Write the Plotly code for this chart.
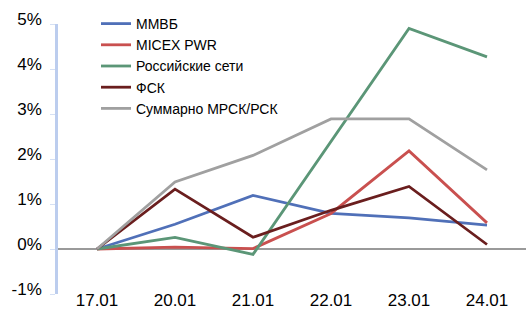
import plotly.graph_objects as go

dates = ["17.01", "20.01", "21.01", "22.01", "23.01", "24.01"]
micex_mmvb = [0.0, 0.55, 1.19, 0.79, 0.69, 0.53]
micex_pwr = [0.0, 0.04, 0.01, 0.79, 2.18, 0.58]
ross_seti = [0.0, 0.26, -0.12, 2.39, 4.90, 4.27]
fsk = [0.0, 1.33, 0.26, 0.86, 1.39, 0.10]
mrsk_total = [0.0, 1.49, 2.08, 2.89, 2.89, 1.76]
y_tick_vals = [-0.01, 0.0, 0.01, 0.02, 0.03, 0.04, 0.05]
y_tick_text = ["-1%", "0%", "1%", "2%", "3%", "4%", "5%"]

series = [
    ("ММВБ", micex_mmvb, "#5070B8"),
    ("MICEX PWR", micex_pwr, "#C9504F"),
    ("Российские сети", ross_seti, "#5B9677"),
    ("ФСК", fsk, "#6A1E1E"),
    ("Суммарно МРСК/РСК", mrsk_total, "#A0A0A0"),
]

fig = go.Figure()
for name, vals, color in series:
    fig.add_trace(go.Scatter(
        x=dates, y=[v / 100 for v in vals], name=name, mode="lines",
        line=dict(color=color, width=2.8),
    ))

font = "Arial, Liberation Sans, sans-serif"
fig.update_layout(
    width=526, height=322,
    margin=dict(l=58, r=0, t=24, b=28, autoexpand=False),
    plot_bgcolor="white", paper_bgcolor="white",
    font=dict(family=font, color="#000000"),
    showlegend=True,
    legend=dict(
        xref="container", yref="container",
        x=96 / 526, y=1 - 8 / 322, xanchor="left", yanchor="top",
        font=dict(size=14, family=font), bgcolor="rgba(0,0,0,0)",
        itemwidth=30, tracegroupgap=0,
    ),
    xaxis=dict(
        type="category", range=[-0.5, 5.5], showgrid=False, showline=False,
        ticks="", tickfont=dict(size=17), zeroline=False,
        ticklabelstandoff=-6,
    ),
    yaxis=dict(
        range=[-0.01, 0.05], tickvals=y_tick_vals, ticktext=y_tick_text,
        showgrid=False, showline=True, linecolor="#bccdee", linewidth=2.5,
        ticks="outside", ticklen=5, tickcolor="#d5e0f4", tickwidth=1,
        tickfont=dict(size=17), zeroline=True, zerolinecolor="#9a9a9a",
        zerolinewidth=1.5, ticklabelstandoff=5, ticklabelshift=-5,
    ),
)

fig.write_html(
    "out.html",
    config={"displayModeBar": False},
    post_script="document.body.style.margin='0px';document.body.style.overflow='hidden';",
)
